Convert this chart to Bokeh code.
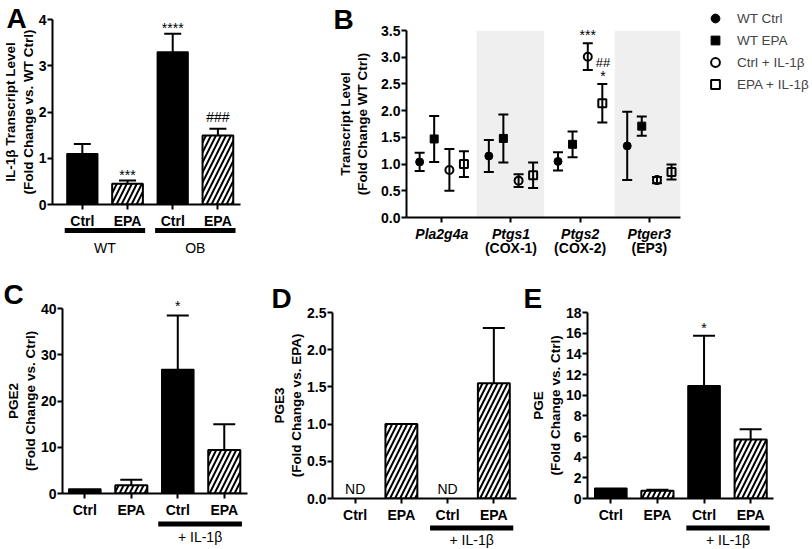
from bokeh.plotting import figure
from bokeh.models import (Range1d, FixedTicker, NumeralTickFormatter, Whisker, TeeHead,
                          BoxAnnotation, Legend, LegendItem, ColumnDataSource)
from bokeh.layouts import row, column
from bokeh.embed import file_html
from bokeh.resources import INLINE
from bokeh.core.properties import value

FONT = "Liberation Sans"

# ---------------- data ----------------
# Panel A : IL-1b transcript
a_positions = [1, 2, 3, 4]
a_labels = ["Ctrl", "EPA", "Ctrl", "EPA"]
a_groups = ["WT", "OB"]
a_means = [1.10, 0.45, 3.30, 1.49]
a_sems = [0.21, 0.07, 0.39, 0.15]
a_styles = ["solid", "hatch", "solid", "hatch"]
a_marks = ["", "***", "****", "###"]

# Panel B : transcript levels
b_genes = ["Pla2g4a", "Ptgs1", "Ptgs2", "Ptger3"]
b_subs = ["", "(COX-1)", "(COX-2)", "(EP3)"]
b_series = ["WT Ctrl", "WT EPA", "Ctrl + IL-1β", "EPA + IL-1β"]
b_wt_ctrl = [1.04, 1.15, 1.05, 1.34]
b_wt_ctrl_err = [0.17, 0.30, 0.17, 0.64]
b_wt_epa = [1.47, 1.48, 1.37, 1.71]
b_wt_epa_err = [0.43, 0.45, 0.24, 0.18]
b_ctrl_il = [0.89, 0.69, 3.01, 0.70]
b_ctrl_il_err = [0.39, 0.12, 0.25, 0.06]
b_epa_il = [1.00, 0.79, 2.14, 0.85]
b_epa_il_err = [0.24, 0.24, 0.36, 0.14]

# Panels C, D, E
cde_labels = ["Ctrl", "EPA", "Ctrl", "EPA"]
cde_styles = ["solid", "hatch", "solid", "hatch"]
cde_group = "+ IL-1β"
c_means = [1.0, 1.8, 26.8, 9.4]
c_sems = [0.0, 1.15, 11.7, 5.6]
d_means = [None, 1.0, None, 1.55]
d_sems = [0.0, 0.0, 0.0, 0.74]
e_means = [1.0, 0.75, 10.9, 5.7]
e_sems = [0.0, 0.10, 4.85, 1.0]


# ---------------- helpers ----------------
def base_fig(width, height, left, right, top, bottom, xr, yr):
    p = figure(width=width, height=height, x_range=Range1d(*xr), y_range=Range1d(*yr),
               output_backend="svg", toolbar_location=None,
               min_border_left=left, min_border_right=right,
               min_border_top=top, min_border_bottom=bottom)
    p.outline_line_color = None
    p.grid.visible = False
    for ax in (p.xaxis[0], p.yaxis[0]):
        ax.axis_line_width = 2
        ax.axis_line_color = "black"
        ax.major_tick_line_width = 2
        ax.major_tick_line_color = "black"
        ax.major_tick_in = 0
        ax.major_tick_out = 5
        ax.minor_tick_line_color = None
        ax.major_label_text_font = FONT
        ax.major_label_text_font_style = "bold"
        ax.major_label_text_font_size = "14px"
        ax.major_label_text_color = "black"
        ax.major_label_standoff = 1
        ax.axis_label_text_font = FONT
        ax.axis_label_text_font_style = "bold"
        ax.axis_label_text_font_size = "13.5px"
        ax.axis_label_text_color = "black"
        ax.axis_label_text_line_height = 1.15
        ax.axis_label_standoff = 0
    p.xaxis.major_label_standoff = 3
    return p


def gtext(p, xs, ys, texts, dx=0, dy=0, size="14px", style="normal", align="center"):
    # dy: screen pixels, positive = downwards
    p.text(x=xs, y=ys, text=texts, x_offset=dx, y_offset=dy,
           text_font=value(FONT), text_font_size=size, text_font_style=style,
           text_align=align, text_baseline="middle", text_color="black",
           level="overlay")


def letter(p, t, dx, dy):
    gtext(p, [p.x_range.start], [p.y_range.end], [t], dx=dx, dy=dy,
          size="28px", style="bold", align="left")


def bars(p, xs, means, sems, styles, bar_w, cap):
    sol = [i for i, s in enumerate(styles) if s == "solid" and means[i] is not None]
    hat = [i for i, s in enumerate(styles) if s == "hatch" and means[i] is not None]
    p.vbar(x=[xs[i] for i in sol], top=[means[i] for i in sol], bottom=0, width=bar_w,
           fill_color="black", line_color="black", line_width=1.5)
    p.vbar(x=[xs[i] for i in hat], top=[means[i] for i in hat], bottom=0, width=bar_w,
           fill_color="white", hatch_pattern="/", hatch_color="black",
           hatch_weight=2, hatch_scale=10, line_color="black", line_width=2)
    err = [i for i in range(len(xs)) if means[i] is not None and sems[i] > 0]
    src = ColumnDataSource(dict(base=[xs[i] for i in err],
                                lower=[means[i] for i in err],
                                upper=[means[i] + sems[i] for i in err]))
    p.add_layout(Whisker(source=src, base="base", lower="lower", upper="upper",
                         dimension="height", line_width=2, line_color="black",
                         upper_head=TeeHead(size=cap, line_width=2, line_color="black"),
                         lower_head=None))


def x_labels(p, xs, labels):
    p.xaxis.ticker = FixedTicker(ticks=xs)
    p.xaxis.major_label_overrides = {x: l for x, l in zip(xs, labels)}


def group(p, x0, x1, y_line, text, dy_text):
    p.segment(x0=[x0], y0=[y_line], x1=[x1], y1=[y_line], line_width=5,
              line_color="black", level="overlay")
    gtext(p, [(x0 + x1) / 2], [0], [text], dy=dy_text)


H1, H2 = 265, 283

# ---------------- Panel A ----------------
pA = base_fig(290, H1, 49, 50, 19, 61, (0.34, 4.5), (0, 4))
bars(pA, a_positions, a_means, a_sems, a_styles, 0.68, 17)
x_labels(pA, a_positions, a_labels)
pA.yaxis.ticker = FixedTicker(ticks=[0, 1, 2, 3, 4])
pA.yaxis.axis_label = "IL-1β Transcript Level\n(Fold Change vs. WT Ctrl)"
sig_dy = {"***": -5, "****": -6, "###": -11.5}
for x, m, s, t in zip(a_positions, a_means, a_sems, a_marks):
    if t:
        gtext(pA, [x], [m + s], [t], dy=sig_dy[t])
group(pA, 0.61, 2.39, -0.562, a_groups[0], 43)
group(pA, 2.61, 4.39, -0.562, a_groups[1], 43)
letter(pA, "A", -46, -1)

# ---------------- Panel B ----------------
pB = base_fig(398, H1, 116, 8, 30, 48, (0.49, 4.45), (0, 3.5))
pB.yaxis.axis_label_standoff = 8
pB.add_layout(BoxAnnotation(left=1.5, right=2.48, fill_color="#efefef", fill_alpha=1,
                            line_color=None, level="underlay"))
pB.add_layout(BoxAnnotation(left=3.5, right=4.45, fill_color="#efefef", fill_alpha=1,
                            line_color=None, level="underlay"))
gx = [1, 2, 3, 4]
x_labels(pB, gx, b_genes)
pB.xaxis.major_label_text_font_style = "bold italic"
pB.yaxis.ticker = FixedTicker(ticks=[0, 0.5, 1, 1.5, 2, 2.5, 3, 3.5])
pB.yaxis.formatter = NumeralTickFormatter(format="0.0")
pB.yaxis.axis_label = "Transcript Level\n(Fold Change WT Ctrl)"
series = [
    (b_wt_ctrl, b_wt_ctrl_err, -0.32, "circle", "black"),
    (b_wt_epa, b_wt_epa_err, -0.11, "square", "black"),
    (b_ctrl_il, b_ctrl_il_err, 0.11, "circle", None),
    (b_epa_il, b_epa_il_err, 0.32, "square", None),
]
for vals, errs, off, mk, fc in series:
    xs = [g + off for g in gx]
    src = ColumnDataSource(dict(base=xs, lower=[v - e for v, e in zip(vals, errs)],
                                upper=[v + e for v, e in zip(vals, errs)]))
    pB.add_layout(Whisker(source=src, base="base", lower="lower", upper="upper",
                          dimension="height", line_width=2, line_color="black",
                          upper_head=TeeHead(size=10, line_width=2, line_color="black"),
                          lower_head=TeeHead(size=10, line_width=2, line_color="black")))
    pB.scatter(x=xs, y=vals, marker=mk, size=8, fill_color=fc, line_color="black",
               line_width=2 if fc is None else 1)
for g, s in zip(gx, b_subs):
    if s:
        gtext(pB, [g], [0], [s], dy=30, style="bold")
gtext(pB, [3 + 0.11], [b_ctrl_il[2] + b_ctrl_il_err[2]], ["***"], dy=-8)
gtext(pB, [3.33], [2.90], ["##"], size="13px")
gtext(pB, [3.33], [b_epa_il[2] + b_epa_il_err[2]], ["*"], dy=-8)
letter(pB, "B", -73, -11)

# ---------------- Legend (separate figure, same series data kept out of view) ----------------
pL = figure(width=124, height=H1, x_axis_type=None, y_axis_type=None,
            x_range=Range1d(-20, -10), y_range=Range1d(-20, -10),
            output_backend="svg", toolbar_location=None, min_border=0)
pL.outline_line_color = None
items = []
for (vals, errs, off, mk, fc), name in zip(series, b_series):
    r = pL.scatter(x=[g + off for g in gx], y=vals, marker=mk, size=8, fill_color=fc,
                   line_color="black", line_width=2 if fc is None else 1)
    items.append(LegendItem(label=name, renderers=[r]))
leg = Legend(items=items, location="top_left", margin=7, padding=0, spacing=0,
             glyph_width=40, glyph_height=22, label_standoff=2,
             label_text_font=FONT, label_text_font_size="13.5px",
             border_line_color=None, background_fill_alpha=0)
pL.add_layout(leg)

# ---------------- Panel C ----------------
pC = base_fig(268, H2, 62, 21, 43, 55, (0.52, 4.5), (0, 40))
bars(pC, a_positions, c_means, c_sems, cde_styles, 0.69, 22)
x_labels(pC, a_positions, cde_labels)
pC.yaxis.ticker = FixedTicker(ticks=[0, 10, 20, 30, 40])
pC.yaxis.axis_label = "PGE2\n(Fold Change vs. Ctrl)"
gtext(pC, [3], [c_means[2] + c_sems[2]], ["*"], dy=-9)
group(pC, 2.58, 4.38, -6.62, cde_group, 43)
letter(pC, "C", -59, -14)

# ---------------- Panel D ----------------
pD = base_fig(252, H2, 63, 4, 47, 50, (0.51, 4.49), (0, 2.5))
bars(pD, a_positions, d_means, d_sems, cde_styles, 0.69, 22)
x_labels(pD, a_positions, cde_labels)
pD.yaxis.ticker = FixedTicker(ticks=[0, 0.5, 1, 1.5, 2, 2.5])
pD.yaxis.formatter = NumeralTickFormatter(format="0.0")
pD.yaxis.axis_label = "PGE3\n(Fold Change vs. EPA)"
nd = [x for x, m in zip(a_positions, d_means) if m is None]
gtext(pD, nd, [0] * len(nd), ["ND"] * len(nd), dy=-10)
group(pD, 2.62, 4.42, -0.395, cde_group, 41)
letter(pD, "D", -61, -14.5)

# ---------------- Panel E ----------------
pE = base_fig(292, H2, 67, 39, 47, 50, (0.5, 4.49), (0, 18))
bars(pE, a_positions, e_means, e_sems, cde_styles, 0.69, 22)
x_labels(pE, a_positions, cde_labels)
pE.yaxis.ticker = FixedTicker(ticks=list(range(0, 19, 2)))
pE.yaxis.axis_label = "PGE\n(Fold Change vs. Ctrl)"
gtext(pE, [3], [e_means[2] + e_sems[2]], ["*"], dy=-8)
group(pE, 2.62, 4.41, -2.85, cde_group, 41)
letter(pE, "E", -64, -14)

top = row(column(pA), column(pB), column(pL), spacing=0)
bottom = row(column(pC), column(pD), column(pE), spacing=0)
layout = column(top, bottom, spacing=0)
open("out.html", "w").write(file_html(layout, INLINE))
